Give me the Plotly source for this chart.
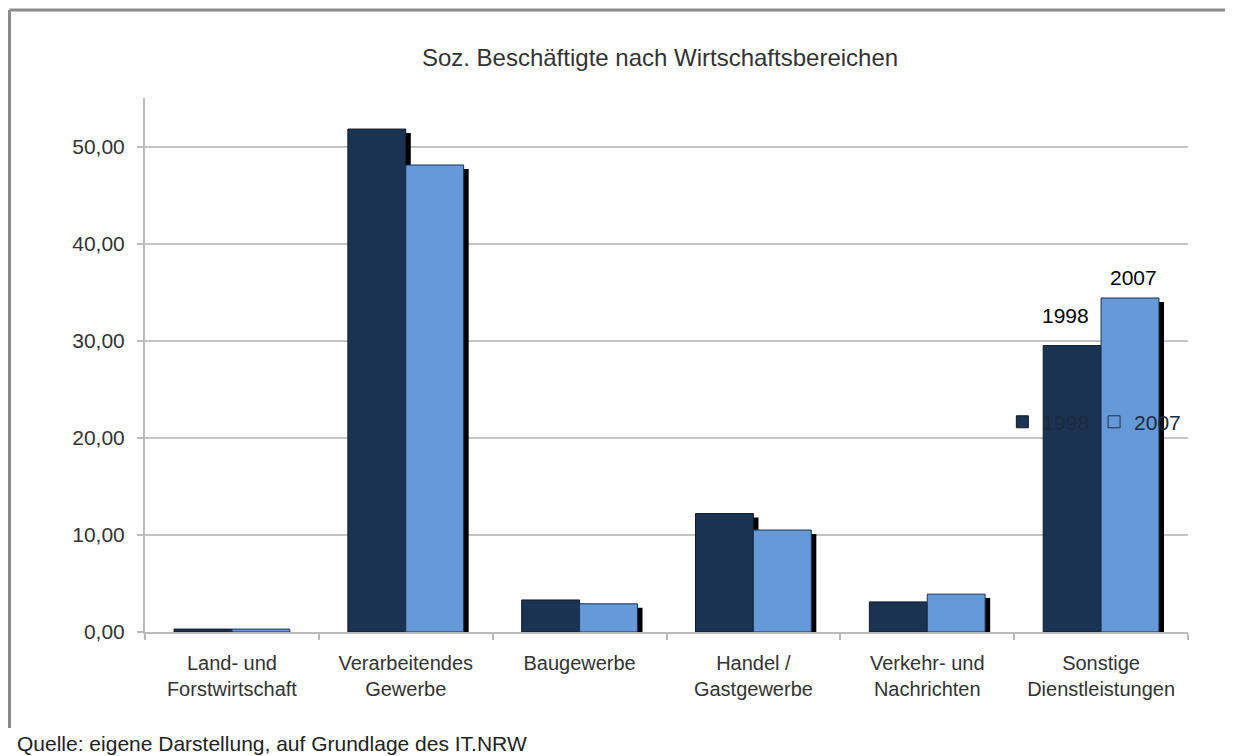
import plotly.graph_objects as go

categories = ["Land- und<br>Forstwirtschaft", "Verarbeitendes<br>Gewerbe", "Baugewerbe",
              "Handel /<br>Gastgewerbe", "Verkehr- und<br>Nachrichten", "Sonstige<br>Dienstleistungen"]
values_1998 = [0.3, 51.8, 3.3, 12.2, 3.1, 29.5]
values_2007 = [0.3, 48.1, 2.9, 10.5, 3.9, 34.4]
y_ticks = [0, 10, 20, 30, 40, 50]

c1998 = "#1b3352"
c2007 = "#6699d8"
FONT = "Liberation Sans"
bw = 0.333
sdx = 0.029
sdy = 0.4

fig = go.Figure()
fig.add_trace(go.Bar(x=categories, y=[v - sdy for v in values_1998], width=bw, offset=-bw + sdx,
                     marker=dict(color="black", line=dict(width=0)), showlegend=False, hoverinfo="skip"))
fig.add_trace(go.Bar(x=categories, y=values_1998, width=bw, offset=-bw, name="1998",
                     marker=dict(color=c1998, line=dict(color="#111a28", width=1))))
fig.add_trace(go.Bar(x=categories, y=[v - sdy for v in values_2007], width=bw, offset=sdx,
                     marker=dict(color="black", line=dict(width=0)), showlegend=False, hoverinfo="skip"))
fig.add_trace(go.Bar(x=categories, y=values_2007, width=bw, offset=0, name="2007",
                     marker=dict(color=c2007, line=dict(color="#1b3352", width=1))))

fig.add_annotation(x=categories[5], y=values_1998[5], text="1998", showarrow=False,
                   xshift=-36, yshift=30, font=dict(size=21, color="black", family=FONT))
fig.add_annotation(x=categories[5], y=values_2007[5], text="2007", showarrow=False,
                   xshift=32, yshift=21, font=dict(size=21, color="black", family=FONT))

fig.add_annotation(x=-0.1246, y=-0.2097, xref="paper", yref="paper", xanchor="left", yanchor="middle",
                   text="Quelle: eigene Darstellung, auf Grundlage des IT.NRW", showarrow=False,
                   font=dict(size=21, color="#222", family=FONT))

border = dict(color="#8a8a8a", width=3)
fig.add_shape(type="line", xref="paper", yref="paper", x0=-0.1299, x1=1.0403, y0=1.1648, y1=1.1648, line=border)
fig.add_shape(type="line", xref="paper", yref="paper", x0=-0.1299, x1=-0.1299, y0=1.1648, y1=-0.1798, line=border)
fig.add_shape(type="line", xref="paper", yref="paper", x0=1.0403, x1=1.0403, y0=1.1648, y1=-0.1798,
              line=dict(color="#b0b0b0", width=2))

fig.update_layout(
    width=1225, height=748,
    margin=dict(l=137, r=45, t=90, b=124),
    paper_bgcolor="white", plot_bgcolor="white",
    barmode="overlay",
    separators=",.",
    font=dict(family=FONT, size=21, color="#333"),
    title=dict(text="Soz. Beschäftigte nach Wirtschaftsbereichen", x=(660 - 8) / 1225, xanchor="center",
               y=1 - (58 - 8) / 748, yanchor="middle", font=dict(size=24, color="#333")),
    legend=dict(orientation="h", x=0.822, y=0.393, xanchor="left", yanchor="middle",
                bgcolor="rgba(0,0,0,0)", font=dict(size=21, color="#1b2a40"),
                itemwidth=30, traceorder="normal"),
    showlegend=True,
    xaxis=dict(showline=True, linecolor="#bbbbbb", linewidth=2, ticks="outside", tickson="boundaries",
               ticklen=6, tickcolor="#bbbbbb", tickwidth=2, showgrid=False, ticklabelstandoff=12,
               tickfont=dict(size=20, color="#333")),
    yaxis=dict(range=[0, 55], tickvals=y_ticks, tickformat=".2f", showgrid=True, gridcolor="#c4c4c4",
               gridwidth=2, showline=True, linecolor="#bbbbbb", linewidth=2, ticks="outside",
               ticklen=6, tickcolor="#bbbbbb", tickwidth=2, zeroline=False, ticklabelstandoff=8,
               tickfont=dict(size=21, color="#333")),
)

fig.write_html("out.html")
